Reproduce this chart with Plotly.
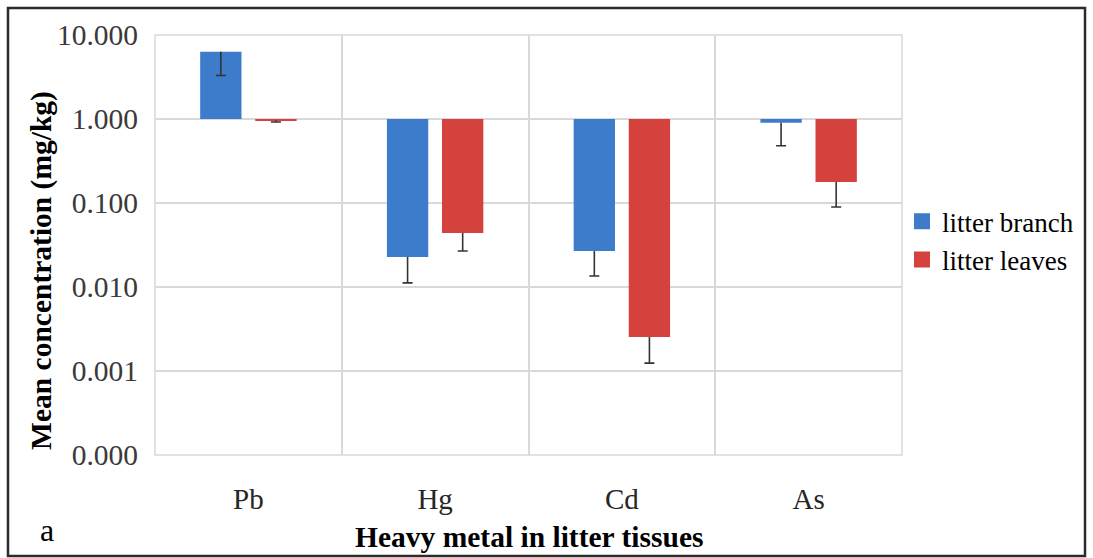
import plotly.graph_objects as go

# Heavy metal concentrations in litter tissues (mg/kg), means and lower error limits
metals = ["Pb", "Hg", "Cd", "As"]
branch_mean = [6.3, 0.0228, 0.0268, 0.90]
branch_lower = [3.3, 0.0112, 0.0135, 0.48]
leaves_mean = [0.96, 0.044, 0.00254, 0.178]
leaves_lower = [0.92, 0.0268, 0.00124, 0.0896]

y_tickvals = [0.0001, 0.001, 0.01, 0.1, 1, 10]
y_ticktext = ["0.000", "0.001", "0.010", "0.100", "1.000", "10.000"]

BASE = 1.0  # bars grow from 1.000 on the log axis
SERIF = "Liberation Serif, Times New Roman, serif"
ERR_COLOR = "#333333"


def series_traces(name, means, lowers, color, group):
    n = len(means)
    # the bar itself, with a cap-less minus error stem from its end to the lower limit
    bar = go.Bar(
        name=name,
        x=metals,
        y=[m - BASE for m in means],
        base=[BASE] * n,
        offsetgroup=group,
        marker=dict(color=color, line=dict(width=0)),
        showlegend=False,
        hoverinfo="skip",
        error_y=dict(
            type="data",
            symmetric=False,
            array=[0] * n,
            arrayminus=[m - lo for m, lo in zip(means, lowers)],
            color=ERR_COLOR,
            thickness=1.6,
            width=0,
        ),
    )
    # zero-height transparent bar at the lower limit carrying the end cap
    cap = go.Bar(
        x=metals,
        y=[0] * n,
        base=lowers,
        offsetgroup=group,
        marker=dict(color="rgba(0,0,0,0)", line=dict(width=0)),
        showlegend=False,
        hoverinfo="skip",
        error_y=dict(
            type="data",
            symmetric=False,
            array=[0] * n,
            arrayminus=[0] * n,
            color=ERR_COLOR,
            thickness=1.6,
            width=5,
        ),
    )
    # legend swatch
    key = go.Scatter(
        name=name,
        x=[None],
        y=[None],
        mode="markers",
        marker=dict(symbol="square", size=16, color=color),
        showlegend=True,
    )
    return [bar, cap, key]


fig = go.Figure()
for tr in series_traces("litter branch", branch_mean, branch_lower, "#3d7ccb", "branch"):
    fig.add_trace(tr)
for tr in series_traces("litter leaves", leaves_mean, leaves_lower, "#d5413c", "leaves"):
    fig.add_trace(tr)

fig.update_layout(
    width=1093,
    height=558,
    margin=dict(l=155, r=191, t=35, b=103),
    paper_bgcolor="white",
    plot_bgcolor="white",
    barmode="group",
    bargap=0.41,
    bargroupgap=0.25,
    font=dict(family=SERIF, color="#000000", size=28),
    showlegend=True,
    legend=dict(
        x=1.0,
        y=0.51,
        xanchor="left",
        yanchor="middle",
        font=dict(family=SERIF, size=27, color="#000000"),
        bgcolor="rgba(0,0,0,0)",
        itemwidth=30,
        tracegroupgap=0,
    ),
    xaxis=dict(
        type="category",
        tickson="boundaries",
        showgrid=True,
        gridcolor="#d9d9d9",
        gridwidth=1.5,
        showline=False,
        zeroline=False,
        ticks="",
        ticklabelstandoff=24,
        tickfont=dict(family=SERIF, size=29, color="#262626"),
    ),
    yaxis=dict(
        type="log",
        range=[-4, 1],
        tickvals=y_tickvals,
        ticktext=y_ticktext,
        showgrid=True,
        gridcolor="#d9d9d9",
        gridwidth=1.5,
        showline=False,
        zeroline=False,
        ticks="outside",
        ticklen=10,
        tickcolor="rgba(0,0,0,0)",
        tickfont=dict(family=SERIF, size=29.5, color="#3a3a3a"),
    ),
)

# Light border of the plotting area
fig.add_shape(
    type="rect", xref="paper", yref="paper", x0=0, x1=1, y0=0, y1=1,
    line=dict(color="#d9d9d9", width=1.5), fillcolor="rgba(0,0,0,0)",
    layer="below",
)

# Axis titles and panel letter
fig.add_annotation(
    text="<b>Mean concentration (mg/kg)</b>",
    xref="paper", yref="paper", x=-0.153, y=0.44,
    xanchor="center", yanchor="middle", textangle=-90, showarrow=False,
    font=dict(family=SERIF, size=29.5, color="#000000"),
)
fig.add_annotation(
    text="<b>Heavy metal in litter tissues</b>",
    xref="paper", yref="paper", x=0.5, y=-0.196,
    xanchor="center", yanchor="middle", showarrow=False,
    font=dict(family=SERIF, size=29.5, color="#000000"),
)
fig.add_annotation(
    text="a",
    xref="paper", yref="paper", x=-0.1446, y=-0.178,
    xanchor="center", yanchor="middle", showarrow=False,
    font=dict(family=SERIF, size=32, color="#000000"),
)

# Outer frame around the whole figure
fig.add_shape(
    type="rect", xref="paper", yref="paper",
    x0=-0.1968, x1=1.245, y0=-0.2405, y1=1.064,
    line=dict(color="#2b2b2b", width=2.5), fillcolor="rgba(0,0,0,0)",
    layer="above",
)

fig.write_html("out.html")
